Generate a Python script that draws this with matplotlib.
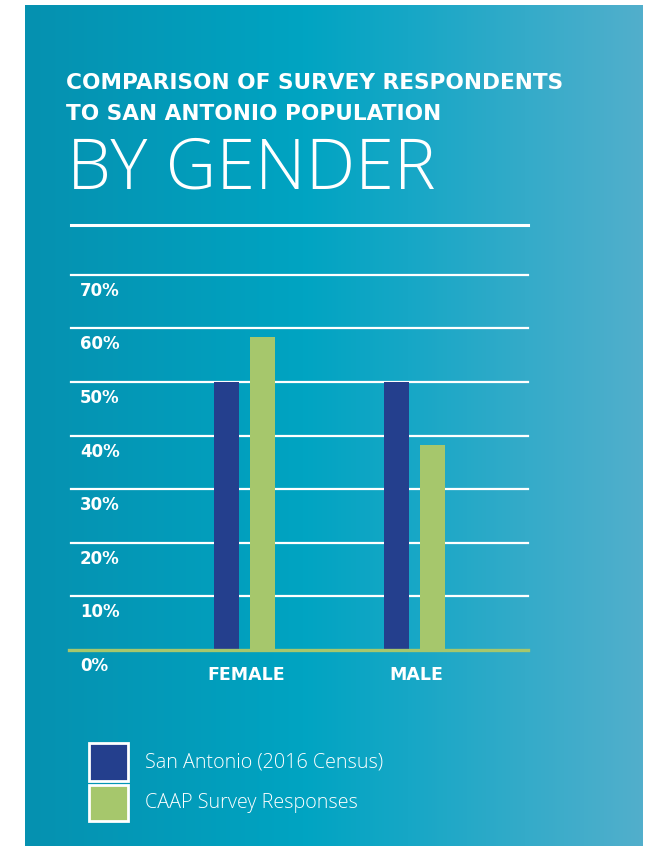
import numpy as np
import matplotlib
matplotlib.use("Agg")
import matplotlib.pyplot as plt
from matplotlib.patches import Rectangle
import matplotlib.transforms as mtransforms

# ---- data ----
categories = ["FEMALE", "MALE"]
census_values = [50.0, 50.0]          # San Antonio (2016 Census)
survey_values = [58.4, 38.2]          # CAAP Survey Responses
y_ticks = [0, 10, 20, 30, 40, 50, 60, 70]
y_tick_labels = ["0%", "10%", "20%", "30%", "40%", "50%", "60%", "70%"]
series_labels = ["San Antonio (2016 Census)", "CAAP Survey Responses"]
title_line1 = "COMPARISON OF SURVEY RESPONDENTS"
title_line2 = "TO SAN ANTONIO POPULATION"
title_big = "BY GENDER"

BLUE = "#243f8d"
GREEN = "#a6c76c"

W, H = 654, 846
fig = plt.figure(figsize=(W / 100, H / 100), dpi=100, facecolor="white")

def fx(x):
    return x / W

def fy(y):
    return 1 - y / H

BOLD_FAM = ["DejaVu Sans"]
LIGHT_FAM = ["Open Sans", "DejaVu Sans"]

# ---- gradient panel ----
px0, px1, py0, py1 = 25, 643, 5, 846
bg = fig.add_axes([fx(px0), fy(py1), fx(px1) - fx(px0), fy(py0) - fy(py1)])
bg.set_axis_off()
stops = [0.0, 0.45, 0.62, 1.0]
cols = np.array([(6, 145, 176), (0, 164, 194), (22, 167, 198), (82, 175, 204)]) / 255
t = np.linspace(0, 1, 600)
grad = np.stack([np.interp(t, stops, cols[:, i]) for i in range(3)], axis=-1)[None, :, :]
bg.imshow(grad, aspect="auto", extent=[0, 1, 0, 1])
bg.set_xlim(0, 1)
bg.set_ylim(0, 1)

# ---- titles ----
fig.text(fx(66), fy(83), title_line1, color="white", fontsize=15.6, fontweight="bold",
         family=BOLD_FAM, ha="left", va="center")
fig.text(fx(66), fy(114), title_line2, color="white", fontsize=15.6, fontweight="bold",
         family=BOLD_FAM, ha="left", va="center")
fig.text(fx(67), fy(170), title_big, color="white", fontsize=50.5, fontweight="light",
         family=LIGHT_FAM, ha="left", va="center")
fig.add_artist(plt.Line2D([fx(71), fx(528)], [fy(225), fy(225)], color="white", lw=2.2))

# ---- chart axes ----
ax_l, ax_r, ax_t, ax_b = 69, 528, 274.7, 650
ax = fig.add_axes([fx(ax_l), fy(ax_b), fx(ax_r) - fx(ax_l), fy(ax_t) - fy(ax_b)])
ax.set_facecolor("none")
for s in ax.spines.values():
    s.set_visible(False)
ax.set_xticks([])
ax.set_yticks([])

x = np.arange(len(categories))
unit = 170.0
ax.set_xlim(-(244.5 - ax_l) / unit, 1 + (ax_r - 414.5) / unit)
ax.set_ylim(0, 70)

for v in y_ticks[1:]:
    ax.axhline(v, xmin=2 / (ax_r - ax_l), xmax=1, color="white", lw=1.6, zorder=1, clip_on=False)
ax.axhline(0, color=GREEN, lw=2.4, zorder=4, clip_on=False)

bw = 25 / unit
off = 18 / unit
ax.bar(x - off, census_values, width=bw, color=BLUE, zorder=3)
ax.bar(x + off, survey_values, width=bw, color=GREEN, zorder=3)

lab_trans = mtransforms.blended_transform_factory(ax.transAxes, ax.transData)
lab_trans = lab_trans + mtransforms.ScaledTranslation(0, -16 / 100, fig.dpi_scale_trans)
for v, lab in zip(y_ticks, y_tick_labels):
    ax.text((80 - ax_l) / (ax_r - ax_l), v, lab, transform=lab_trans, color="white",
            fontsize=12, fontweight="bold", family=BOLD_FAM,
            ha="left", va="center")

cat_trans = mtransforms.blended_transform_factory(ax.transData, ax.transAxes)
for xi, c in zip(x, categories):
    ax.text(xi + 1.5 / unit, -(675 - ax_b) / (ax_b - ax_t), c, transform=cat_trans, color="white",
            fontsize=12.5, fontweight="bold", family=BOLD_FAM,
            ha="center", va="center")

# ---- legend ----
for (y0, y1), col, lab, ty in zip([(743, 781), (785, 821)], [BLUE, GREEN], series_labels, [762, 803]):
    fig.add_artist(Rectangle((fx(89), fy(y1)), fx(128) - fx(89), fy(y0) - fy(y1),
                             facecolor=col, edgecolor="white", lw=2.0, transform=fig.transFigure))
    fig.text(fx(145), fy(ty), lab, color="white", fontsize=14.2, fontweight="light",
             family=LIGHT_FAM, ha="left", va="center")

fig.savefig("out.png", dpi=100, facecolor="white")
